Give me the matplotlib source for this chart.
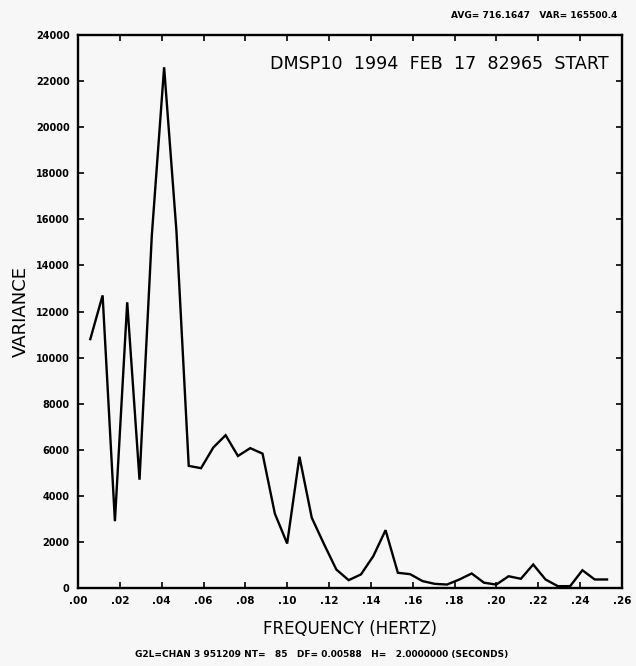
import numpy as np
import matplotlib
matplotlib.use("Agg")
import matplotlib.pyplot as plt

df = 0.00588
variance = [10800, 12700, 2900, 12400, 4700, 15300, 22600, 15500, 5300, 5200,
            6100, 6630, 5730, 6070, 5830, 3230, 1930, 5700, 3050, 1900,
            800, 340, 590, 1380, 2510, 660, 600, 300, 180, 150,
            370, 630, 230, 150, 510, 400, 1020, 370, 80, 80,
            770, 370, 370]
freq = [df * (i + 1) for i in range(len(variance))]

xticks = [0.00, 0.02, 0.04, 0.06, 0.08, 0.10, 0.12, 0.14, 0.16, 0.18, 0.20, 0.22, 0.24, 0.26]
xticklabels = [".00", ".02", ".04", ".06", ".08", ".10", ".12", ".14", ".16", ".18", ".20", ".22", ".24", ".26"]
yticks = list(range(0, 24001, 2000))
yticklabels = [str(v) for v in yticks]

bg = "#f7f7f7"
fig = plt.figure(figsize=(6.36, 6.66), dpi=100, facecolor=bg)
ax = fig.add_axes([78/636, 1-588/666, (622-78)/636, (588-35)/666], facecolor=bg)

ax.plot(freq, variance, color="black", lw=1.7, solid_joinstyle="miter")
ax.set_xlim(0, 0.26)
ax.set_ylim(0, 24000)
ax.set_xticks(xticks)
ax.set_xticklabels(xticklabels, fontsize=7.5, fontweight="bold")
ax.set_yticks(yticks)
ax.set_yticklabels(yticklabels, fontsize=7, fontweight="bold")
ax.tick_params(direction="in", length=4, width=1.2, top=True, right=True, pad=6)
for s in ax.spines.values():
    s.set_linewidth(1.7)

ax.set_xlabel("FREQUENCY (HERTZ)", fontsize=12, labelpad=10)
ax.set_ylabel("VARIANCE", fontsize=13, labelpad=4)

ax.text(0.976, 0.948, "DMSP10  1994  FEB  17  82965  START", transform=ax.transAxes,
        ha="right", va="center", fontsize=12.6)
fig.text(617/636, 1-16/666, "AVG= 716.1647   VAR= 165500.4", ha="right", va="center",
         fontsize=6.5, fontweight="bold")
fig.text(322/636, 1-655/666, "G2L=CHAN 3 951209 NT=   85   DF= 0.00588   H=   2.0000000 (SECONDS)",
         ha="center", va="center", fontsize=6.5, fontweight="bold")

fig.savefig("out.png", dpi=100, facecolor=bg)
